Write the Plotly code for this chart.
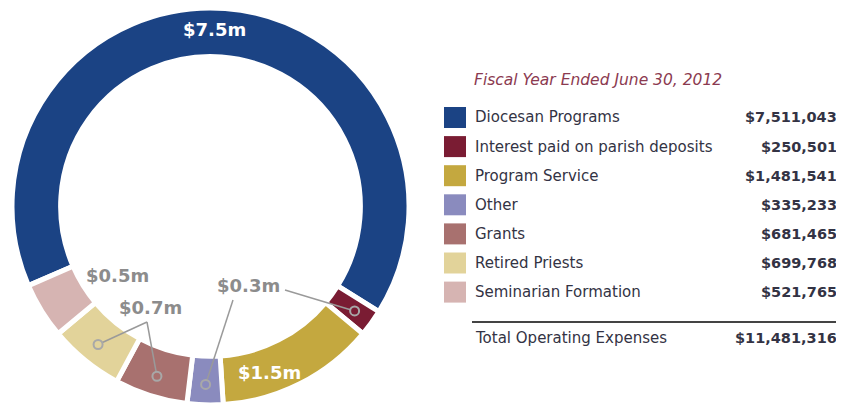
import math
import plotly.graph_objects as go

# ---------------- data ----------------
categories = ["Diocesan Programs", "Interest paid on parish deposits", "Program Service",
              "Other", "Grants", "Retired Priests", "Seminarian Formation"]
values = [7511043, 250501, 1481541, 335233, 681465, 699768, 521765]
value_labels = ["$7,511,043", "$250,501", "$1,481,541", "$335,233",
                "$681,465", "$699,768", "$521,765"]
colors = ["#1B4384", "#7A1C33", "#C4A83F", "#8A8BBE", "#A8716F", "#E2D39A", "#D6B4B2"]
title_text = "Fiscal Year Ended June 30, 2012"
total_label = "Total Operating Expenses"
total_value = "$11,481,316"

# ---------------- layout constants ----------------
# the page body has an 8px default margin, so the figure is drawn 8px in and 8px down
OFF = 8
W, H = 844 - OFF, 405 - OFF
CX, CY = 210.5, 206.5          # ring centre in page pixels
R_OUT = (H) / 2                # outer radius of the pie domain
HOLE = 0.755
ROT = 246.5
R_MARK = 178
GRAY = "#8c8c8c"
TXT = "#333344"
FONT = "DejaVu Sans"


def px(x):
    return (x - OFF) / W


def py(y):
    return 1 - (y - OFF) / H


total = sum(values)
mids = []
cum = 0
for v in values:
    mids.append(ROT + (cum + v / 2) / total * 360)
    cum += v


def slice_point(i, r=R_MARK):
    a = math.radians(mids[i])
    return CX + r * math.sin(a), CY - r * math.cos(a)


def short(v):
    return "$%.1fm" % (v / 1e6)


fig = go.Figure(go.Pie(
    labels=categories, values=values, sort=False, direction="clockwise",
    rotation=ROT, hole=HOLE, textinfo="none", showlegend=False,
    marker=dict(colors=colors, line=dict(color="white", width=5)),
    domain=dict(x=[px(CX - R_OUT), px(CX + R_OUT)], y=[0, 1]),
))

shapes = []
annotations = []

# ring labels: (slice indices the label represents, label position, color, leader starts)
ring_labels = [
    ([0], (214.5, 30), "white", []),
    ([2], (269, 372), "white", []),
    ([1, 3], (248, 285), GRAY, [(285, 290), (233, 300)]),
    ([5, 4], (150.5, 307), GRAY, [(147, 322), (147, 322)]),
    ([6], (117.5, 275), GRAY, []),
]
for idxs, (lx, ly), col, starts in ring_labels:
    annotations.append(dict(x=px(lx), y=py(ly), xref="paper", yref="paper",
                            text="<b>%s</b>" % short(values[idxs[0]]), showarrow=False,
                            font=dict(family=FONT, size=18, color=col),
                            xanchor="center", yanchor="middle"))
    for i, (sx, sy) in zip(idxs, starts):
        ex, ey = slice_point(i)
        shapes.append(dict(type="line", xref="paper", yref="paper",
                           x0=px(sx), y0=py(sy), x1=px(ex), y1=py(ey),
                           line=dict(color="#9a9a9a", width=1.5)))
        rc = 4.5
        shapes.append(dict(type="circle", xref="paper", yref="paper",
                           x0=px(ex - rc), x1=px(ex + rc), y0=py(ey + rc), y1=py(ey - rc),
                           fillcolor=colors[i], line=dict(color="#a8a8a8", width=2)))

# legend table
annotations.append(dict(x=px(472), y=py(80), xref="paper", yref="paper",
                        text="<i>%s</i>" % title_text, showarrow=False,
                        font=dict(family=FONT, size=15.5, color="#8B3A50"),
                        xanchor="left", yanchor="middle"))
ROW0, ROWSTEP = 117.5, 29.1
for k, (cat, val, col) in enumerate(zip(categories, value_labels, colors)):
    yy = ROW0 + k * ROWSTEP
    shapes.append(dict(type="rect", xref="paper", yref="paper",
                       x0=px(444), x1=px(466), y0=py(yy + 10.5), y1=py(yy - 10.5),
                       fillcolor=col, line=dict(width=0)))
    annotations.append(dict(x=px(473), y=py(yy), xref="paper", yref="paper", text=cat,
                            showarrow=False, font=dict(family=FONT, size=15, color=TXT),
                            xanchor="left", yanchor="middle"))
    annotations.append(dict(x=px(839), y=py(yy), xref="paper", yref="paper",
                            text="<b>%s</b>" % val, showarrow=False,
                            font=dict(family=FONT, size=14.5, color=TXT),
                            xanchor="right", yanchor="middle"))

shapes.append(dict(type="line", xref="paper", yref="paper", x0=px(472), x1=px(840),
                   y0=py(322), y1=py(322), line=dict(color="#444444", width=2)))
annotations.append(dict(x=px(473), y=py(338), xref="paper", yref="paper", text=total_label,
                        showarrow=False, font=dict(family=FONT, size=15, color=TXT),
                        xanchor="left", yanchor="middle"))
annotations.append(dict(x=px(839), y=py(338), xref="paper", yref="paper",
                        text="<b>%s</b>" % total_value, showarrow=False,
                        font=dict(family=FONT, size=14.5, color=TXT),
                        xanchor="right", yanchor="middle"))

fig.update_layout(width=W, height=H, margin=dict(l=0, r=0, t=0, b=0),
                  paper_bgcolor="white", plot_bgcolor="white",
                  shapes=shapes, annotations=annotations)
fig.write_html("out.html")
